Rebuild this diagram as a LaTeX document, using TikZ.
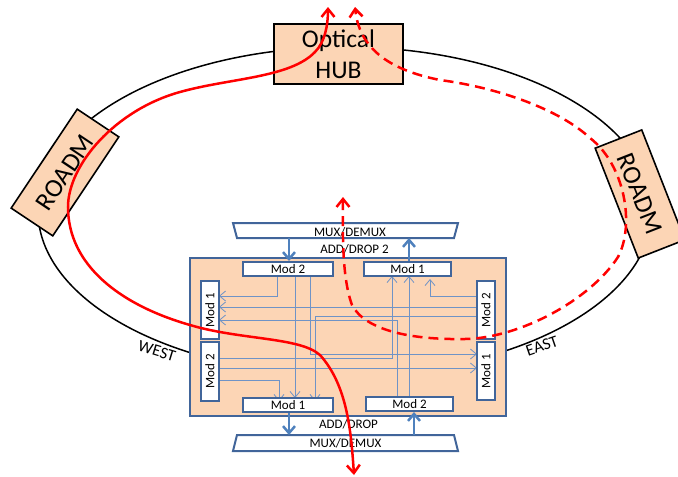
\documentclass[tikz,border=0pt]{standalone}
\usepackage{fontspec}
\setmainfont{Carlito}
\usetikzlibrary{arrows.meta}
\definecolor{peach}{HTML}{FCD5B5}
\definecolor{frameblue}{HTML}{41659A}
\definecolor{wireblue}{HTML}{6F93C6}
\definecolor{thickblue}{HTML}{4F81BD}
\definecolor{redline}{HTML}{FF0000}
\tikzset{
  x=1pt,y=-1pt,
  blackbox/.style={draw=black,line width=1.6pt,fill=peach,inner sep=0pt,align=center},
  framebox/.style={draw=frameblue,line width=2pt,fill=peach,inner sep=0pt},
  modbox/.style={draw=frameblue,line width=2pt,fill=white,inner sep=0pt,font=\fontsize{13}{13}\selectfont},
  muxshape/.style={draw=frameblue,line width=2pt,fill=white},
  lbl/.style={inner sep=0pt,font=\fontsize{13}{13}\selectfont},
  wlbl/.style={inner sep=0pt,font=\fontsize{16.5}{16.5}\selectfont},
  wire/.style={draw=wireblue,line width=0.9pt},
  wirearrow/.style={wire,-{Straight Barb[length=6pt,width=10pt,line width=0.8pt]}},
  thickarrow/.style={draw=thickblue,line width=2.5pt,-{Straight Barb[length=7pt,width=12pt,line width=2.5pt]}},
  redsolid/.style={draw=redline,line width=2.5pt,{Straight Barb[length=8pt,width=13pt,line width=2.5pt]}-{Straight Barb[length=8pt,width=13pt,line width=2.5pt]}},
  reddash/.style={redsolid,dash pattern=on 10pt off 6pt},
}
\begin{document}
\begin{tikzpicture}
\useasboundingbox (0,0) rectangle (678,477);
% ring
\draw[black,line width=1.5pt] (345,211) ellipse [x radius=307pt,y radius=164pt];
% ring nodes
\node[blackbox,minimum width=129pt,minimum height=60pt,font=\fontsize{25.5}{31}\selectfont] (hub) at (338.5,54) {Optical\\HUB};
\node[blackbox,minimum width=119pt,minimum height=50pt,rotate=56.3,font=\fontsize{26}{26}\selectfont] (roadmw) at (65,172.5) {ROADM};
\node[blackbox,minimum width=118pt,minimum height=50pt,rotate=-68.6,font=\fontsize{26}{26}\selectfont] (roadme) at (640,194) {ROADM};
\node[wlbl,rotate=-17] (west) at (157,351) {WEST};
\node[wlbl,rotate=19] (east) at (542,346) {EAST};
% main box
\node[framebox,minimum width=316pt,minimum height=158pt] (main) at (348,337) {};
% mux shapes
\draw[muxshape] (233,223) -- (458,223) -- (454,238) -- (237,238) -- cycle;
\draw[muxshape] (237,435) -- (454,435) -- (458,451) -- (233,451) -- cycle;
\node[lbl] (tmuxt) at (350,232) {MUX/DEMUX};
\node[lbl] (bmuxt) at (345.5,443) {MUX/DEMUX};
\node[lbl] (adt) at (354.5,249) {ADD/DROP 2};
\node[lbl] (adb) at (348.5,424.5) {ADD/DROP};
\coordinate (tmux) at (345.5,238);
\coordinate (bmux) at (345.5,435);
% wires (mod boxes are drawn over them)
\coordinate (tm2s) at (288,276);
\coordinate (tm1s) at (407,276);
\coordinate (tm1h) at (407,279);
\coordinate (bm1n) at (288,398);
\coordinate (bm1h) at (288,401);
\coordinate (bm2n) at (409,397);
\coordinate (lm1e) at (219,310);
\coordinate (lm2e) at (219,371);
\coordinate (rm2w) at (477,310);
\coordinate (rm1w) at (477,371);
\draw[wirearrow] (tm2s -| 277,0) |- (lm1e |- 0,296);
\draw[wirearrow] (tm2s -| 295,0) -- (bm1n -| 295,0);
\draw[wirearrow] (tm2s -| 310,0) |- (rm1w |- 0,354);
\draw[wirearrow] (rm2w |- 0,307) -- (lm1e |- 0,307);
\draw[wirearrow] (rm2w |- 0,316) -| (bm1h -| 315,0);
\draw[wirearrow] (rm2w |- 0,296) -| (tm1h -| 430,0);
\draw[wirearrow] (bm2n -| 397,0) |- (lm1e |- 0,320);
\draw[wirearrow] (bm2n -| 409,0) -- (tm1s -| 409,0);
\draw[wirearrow] (lm2e |- 0,358) -| (tm1s -| 392,0);
\draw[wirearrow] (lm2e |- 0,368) -- (rm1w |- 0,368);
\draw[wirearrow] (lm2e |- 0,380) -| (bm1h -| 279,0);
% modules
\node[modbox,minimum width=90pt,minimum height=14pt] (tm2) at (288,269) {Mod 2};
\node[modbox,minimum width=87pt,minimum height=14pt] (tm1) at (407.5,269) {Mod 1};
\node[modbox,minimum width=90pt,minimum height=14pt] (bm1) at (288,405) {Mod 1};
\node[modbox,minimum width=87pt,minimum height=14pt] (bm2) at (409.5,404) {Mod 2};
\node[modbox,minimum width=58pt,minimum height=18pt,rotate=90] (lm1) at (210,310) {Mod 1};
\node[modbox,minimum width=59pt,minimum height=18pt,rotate=90] (lm2) at (210,371.5) {Mod 2};
\node[modbox,minimum width=58pt,minimum height=18pt,rotate=90] (rm2) at (486,310) {Mod 2};
\node[modbox,minimum width=58pt,minimum height=18pt,rotate=90] (rm1) at (486,371) {Mod 1};
% thick arrows
\draw[thickarrow] (tmux -| 289,0) -- (tm2.north -| 289,0);
\draw[thickarrow] (tm1.north -| 409,0) -- (tmux -| 409,0);
\draw[thickarrow] (bm1.south -| 289,0) -- (bmux -| 289,0);
\draw[thickarrow] (bmux -| 414,0) -- (bm2.south -| 414,0);
% red paths
\draw[redsolid] (354,475) .. controls (351,430) and (347,385) .. (320,355)
  .. controls (300,337) and (240,340) .. (190,325)
  .. controls (120,305) and (68,265) .. (68,207)
  .. controls (68,165) and (115,110) .. (180,92)
  .. controls (230,78) and (290,78) .. (315,52)
  .. controls (325,42) and (328,25) .. (328,7);
\draw[reddash] (343,197) .. controls (343,225) and (341,275) .. (352,305)
  .. controls (365,330) and (410,340) .. (465,339)
  .. controls (520,338) and (590,300) .. (618,257)
  .. controls (635,225) and (625,165) .. (590,138)
  .. controls (560,110) and (500,88) .. (440,80)
  .. controls (400,72) and (360,55) .. (355,7);
\end{tikzpicture}
\end{document}
